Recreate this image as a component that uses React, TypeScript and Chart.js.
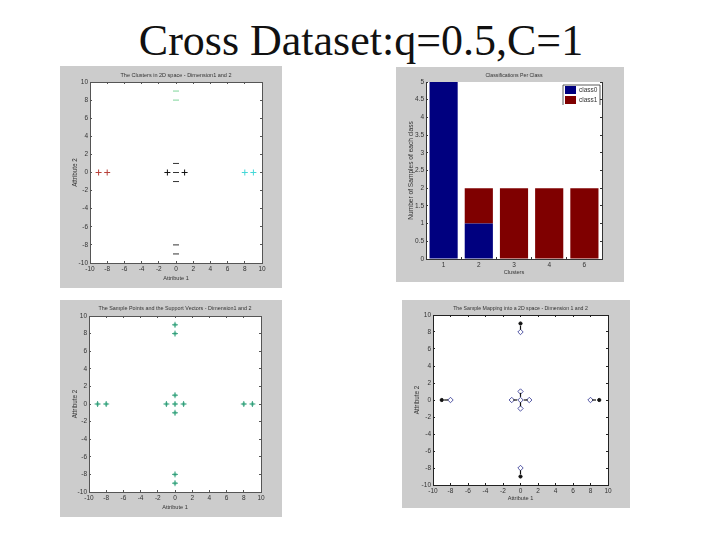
import React, { useEffect, useRef } from "react";
import { Chart, registerables } from "chart.js";

Chart.register(...registerables);

const mainTitle = "Cross Dataset:q=0.5,C=1";
const titleClusters = "The Clusters in 2D space - Dimension1 and 2";
const titleBars = "Classifications Per Class";
const titleSupport = "The Sample Points and the Support Vectors - Dimension1 and 2";
const titleMapping = "The Sample Mapping into a 2D space - Dimension 1 and 2";

const redPts = [{ x: -9, y: 0 }, { x: -8, y: 0 }];
const cyanPts = [{ x: 8, y: 0 }, { x: 9, y: 0 }];
const blackPlus = [{ x: -1, y: 0 }, { x: 1, y: 0 }];
const greenDash = [{ x: 0, y: 9 }, { x: 0, y: 8 }];
const blackDash = [{ x: 0, y: 1 }, { x: 0, y: 0 }, { x: 0, y: -1 }, { x: 0, y: -8 }, { x: 0, y: -9 }];
const samplePts = [
  { x: -9, y: 0 }, { x: -8, y: 0 }, { x: -1, y: 0 }, { x: 0, y: 0 }, { x: 1, y: 0 },
  { x: 8, y: 0 }, { x: 9, y: 0 }, { x: 0, y: 9 }, { x: 0, y: 8 }, { x: 0, y: 1 },
  { x: 0, y: -1 }, { x: 0, y: -8 }, { x: 0, y: -9 },
];
const diamondPts = [
  { x: -8, y: 0 }, { x: -1, y: 0 }, { x: 0, y: 0 }, { x: 1, y: 0 }, { x: 8, y: 0 },
  { x: 0, y: 8 }, { x: 0, y: 1 }, { x: 0, y: -1 }, { x: 0, y: -8 },
];
const farPts = [{ x: -9, y: 0 }, { x: 9, y: 0 }, { x: 0, y: 9 }, { x: 0, y: -9 }];
const hDashPts = [{ x: -8.5, y: 0 }, { x: -0.6, y: 0 }, { x: 0.6, y: 0 }, { x: 8.4, y: 0 }];
const vDashPts = [{ x: 0, y: 8.5 }, { x: 0, y: 0.6 }, { x: 0, y: -0.5 }, { x: 0, y: -8.5 }];

const barClusters = ["1", "2", "3", "4", "6"];
const class0 = [5, 1, 0, 0, 0];
const class1 = [0, 1, 2, 2, 2];
const barTicks = [0, 0.5, 1, 1.5, 2, 2.5, 3, 3.5, 4, 4.5, 5];

const FONT = "Liberation Sans, Arial, sans-serif";
const TEXT = "#333";
const PAD_LEFT = 10;
const PAD_BOTTOM = 5;

type Box = { left: number; top: number; width: number; height: number; px0: number; py0: number; px1: number; py1: number };

function axisFit(size: number) {
  return (s: any) => {
    if (s.isHorizontal()) s.height = size;
    else s.width = size;
  };
}

function gridFor(color: string) {
  return { display: true, drawOnChartArea: false, drawTicks: true, tickLength: -2, tickColor: color, color };
}

function titleFor(box: Box, text: string, size: number) {
  const lineH = size * 1.2;
  const above = 9 - lineH / 2;
  return {
    display: true,
    text,
    fullSize: false,
    color: TEXT,
    font: { size, family: FONT, weight: "normal" as const },
    padding: { top: above, bottom: box.py0 - lineH - above },
  };
}

function layoutFor(box: Box) {
  return { padding: { left: PAD_LEFT, top: 0, right: box.width - box.px1, bottom: PAD_BOTTOM } };
}

function axisTitle(text: string, size: number) {
  return { display: true, text, color: TEXT, font: { size, family: FONT }, padding: 1 };
}

function scatterOptions(box: Box, title: string, labelX: string, labelY: string, titleSize: number, frame: string) {
  const ticks = { stepSize: 2, autoSkip: false, maxRotation: 0, padding: 4, color: TEXT, font: { size: 6.5, family: FONT } };
  const common: any = { type: "linear", min: -10, max: 10, grid: gridFor(frame), border: { display: true, color: frame, width: 1 }, ticks };
  return {
    animation: false as const,
    responsive: false,
    devicePixelRatio: 1,
    layout: layoutFor(box),
    plugins: {
      legend: { display: false },
      tooltip: { enabled: false },
      title: titleFor(box, title, titleSize),
    },
    scales: {
      x: { ...common, position: "bottom", title: axisTitle(labelX, 5.6), afterFit: axisFit(box.height - box.py1 - PAD_BOTTOM) },
      y: { ...common, position: "left", title: axisTitle(labelY, 6.3), afterFit: axisFit(box.px0 - PAD_LEFT) },
      x2: { ...common, position: "top", afterFit: axisFit(0), ticks: { ...ticks, display: false }, title: { display: false } },
      y2: { ...common, position: "right", afterFit: axisFit(0), ticks: { ...ticks, display: false }, title: { display: false } },
    },
  };
}

// Grey figure background and white axes fill.
const panelFill = {
  id: "panelFill",
  beforeDraw(chart: any) {
    const { ctx, width, height, chartArea: a } = chart;
    ctx.save();
    ctx.fillStyle = "#cccccc";
    ctx.fillRect(0, 0, width, height);
    ctx.fillStyle = "#ffffff";
    ctx.fillRect(a.left, a.top, a.right - a.left, a.bottom - a.top);
    ctx.restore();
  },
};

// MATLAB style legend tucked into the upper right of the axes.
const insideLegend = {
  id: "insideLegend",
  afterDraw(chart: any) {
    const { ctx, chartArea: a } = chart;
    const w = 37, rowH = 10, x = a.right - w - 2, y = a.top + 3;
    ctx.save();
    ctx.fillStyle = "#fff";
    ctx.fillRect(x, y, w, rowH * 2);
    ctx.strokeStyle = "#333";
    ctx.lineWidth = 0.8;
    ctx.beginPath();
    ctx.moveTo(x, y + rowH * 2);
    ctx.lineTo(x, y);
    ctx.lineTo(x + w, y);
    ctx.lineTo(x + w, y + rowH * 2);
    ctx.stroke();
    chart.data.datasets.forEach((ds: any, i: number) => {
      ctx.fillStyle = ds.backgroundColor;
      ctx.fillRect(x + 2, y + 1 + i * rowH, 11, rowH - 2);
      ctx.fillStyle = TEXT;
      ctx.font = `6.5px ${FONT}`;
      ctx.textBaseline = "middle";
      ctx.fillText(ds.label, x + 16, y + rowH / 2 + i * rowH);
    });
    ctx.restore();
  },
};

function useChart(make: () => any) {
  const ref = useRef<HTMLCanvasElement>(null);
  useEffect(() => {
    const chart = new Chart(ref.current!, make());
    return () => chart.destroy();
  }, []);
  return ref;
}

function scatterSet(data: any[], style: any, size: number, color: string, extra: any = {}) {
  return {
    data,
    showLine: false,
    pointStyle: style,
    pointRadius: size,
    pointBorderColor: color,
    pointBackgroundColor: "transparent",
    pointBorderWidth: 1,
    ...extra,
  };
}

function Panel({ box, config }: { box: Box; config: () => any }) {
  const ref = useChart(config);
  return (
    <canvas
      ref={ref}
      width={box.width}
      height={box.height}
      style={{
        position: "absolute",
        left: box.left,
        top: box.top,
        width: box.width,
        height: box.height,
        filter: "blur(0.5px)",
      }}
    />
  );
}

const mk = (left: number, top: number, width: number, height: number, x0: number, y0: number, x1: number, y1: number): Box => ({
  left, top, width, height, px0: x0 - left, py0: y0 - top, px1: x1 - left, py1: y1 - top,
});

const box1 = mk(60, 66, 222, 222, 90, 82, 262, 263);
const box2 = mk(396, 67, 228, 215, 426, 82, 602, 259);
const box3 = mk(60, 300, 222, 217, 89, 316, 261, 492);
const box4 = mk(402, 300, 228, 208, 433, 315, 608, 485);

const barOptions = () => {
  const frame = "#333";
  const grid = gridFor(frame);
  const ticks = { autoSkip: false, maxRotation: 0, padding: 4, color: TEXT, font: { size: 6.5, family: FONT } };
  const border = { display: true, color: frame, width: 1 };
  return {
    animation: false,
    responsive: false,
    devicePixelRatio: 1,
    layout: layoutFor(box2),
    plugins: {
      legend: { display: false },
      tooltip: { enabled: false },
      title: titleFor(box2, titleBars, 5.2),
    },
    scales: {
      x: { stacked: true, position: "bottom", grid, border, ticks, title: axisTitle("Clusters", 5.6), afterFit: axisFit(box2.height - box2.py1 - PAD_BOTTOM) },
      y: {
        stacked: true,
        position: "left",
        min: 0,
        max: 5,
        grid,
        border,
        ticks: { ...ticks, stepSize: 0.5, callback: (_: any, i: number) => String(barTicks[i]) },
        title: axisTitle("Number of Samples of each class", 6.6),
        afterFit: axisFit(box2.px0 - PAD_LEFT),
      },
      y2: {
        type: "linear",
        position: "right",
        min: 0,
        max: 5,
        grid,
        border,
        ticks: { display: false, stepSize: 0.5 },
        afterFit: axisFit(0),
      },
    },
  };
};

export default function App() {
  return (
    <div style={{ position: "absolute", left: 0, top: 0, width: 720, height: 540, background: "#fff", overflow: "hidden" }}>
      <div
        style={{
          position: "absolute",
          left: 0,
          width: 722,
          top: 14,
          textAlign: "center",
          fontFamily: "Liberation Serif, serif",
          fontSize: 44,
          lineHeight: "54px",
          color: "#111",
        }}
      >
        {mainTitle}
      </div>
      <Panel
        box={box1}
        config={() => ({
          type: "scatter",
          plugins: [panelFill],
          data: {
            datasets: [
              scatterSet(redPts, "cross", 3, "#b8403a"),
              scatterSet(cyanPts, "cross", 3, "#45d8d8"),
              scatterSet(blackPlus, "cross", 3, "#111"),
              scatterSet(greenDash, "line", 3, "#7fd69a"),
              scatterSet(blackDash, "line", 3, "#333"),
            ],
          },
          options: scatterOptions(box1, titleClusters, "Attribute 1", "Attribute 2", 5.5, "#555"),
        })}
      />
      <Panel
        box={box2}
        config={() => ({
          type: "bar",
          plugins: [panelFill, insideLegend],
          data: {
            labels: barClusters,
            datasets: [
              { label: "class0", data: class0, backgroundColor: "#00007f", barPercentage: 0.8, categoryPercentage: 1 },
              { label: "class1", data: class1, backgroundColor: "#7f0000", barPercentage: 0.8, categoryPercentage: 1 },
            ],
          },
          options: barOptions(),
        })}
      />
      <Panel
        box={box3}
        config={() => ({
          type: "scatter",
          plugins: [panelFill],
          data: {
            datasets: [
              scatterSet(samplePts, "cross", 3, "#1f8a70", { pointBorderWidth: 0.8 }),
              scatterSet(samplePts, "circle", 1.5, "#8fe0b8", { pointBackgroundColor: "#8fe0b8" }),
            ],
          },
          options: scatterOptions(box3, titleSupport, "Attribute 1", "Attribute 2", 5.4, "#555"),
        })}
      />
      <Panel
        box={box4}
        config={() => ({
          type: "scatter",
          plugins: [panelFill],
          data: {
            datasets: [
              scatterSet(farPts, "circle", 1.6, "#111", { pointBackgroundColor: "#111" }),
              scatterSet(hDashPts, "line", 2, "#111", { pointBorderWidth: 1.2 }),
              scatterSet(vDashPts, "line", 2, "#111", { pointRotation: 90, pointBorderWidth: 1.2 }),
              scatterSet(diamondPts, "rectRot", 2.7, "#2a2f8f", { pointBorderWidth: 0.8 }),
            ],
          },
          options: scatterOptions(box4, titleMapping, "Attribute 1", "Attribute 2", 5.2, "#222"),
        })}
      />
    </div>
  );
}
